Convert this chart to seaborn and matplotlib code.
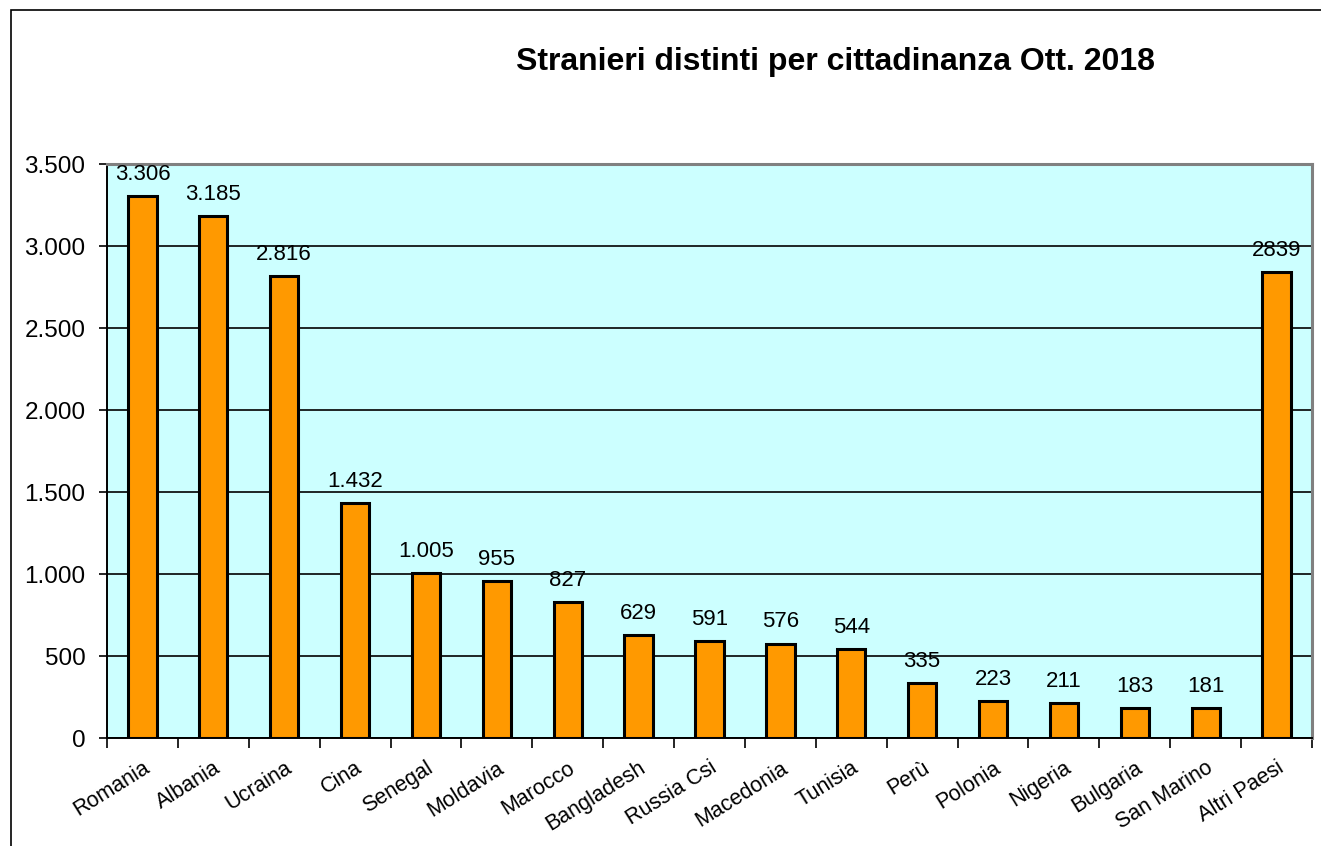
import matplotlib
matplotlib.use("Agg")
import matplotlib.pyplot as plt
import matplotlib.ticker as mticker
from matplotlib.patches import Rectangle
import seaborn as sns
import pandas as pd

# Data
countries = ['Romania', 'Albania', 'Ucraina', 'Cina', 'Senegal', 'Moldavia', 'Marocco',
             'Bangladesh', 'Russia Csi', 'Macedonia', 'Tunisia', 'Perù', 'Polonia',
             'Nigeria', 'Bulgaria', 'San Marino', 'Altri Paesi']
values = [3306, 3185, 2816, 1432, 1005, 955, 827, 629, 591, 576, 544, 335, 223,
          211, 183, 181, 2839]
value_labels = ['3.306', '3.185', '2.816', '1.432', '1.005', '955', '827', '629', '591',
                '576', '544', '335', '223', '211', '183', '181', '2839']
yticks = [0, 500, 1000, 1500, 2000, 2500, 3000, 3500]

df = pd.DataFrame({'paese': countries, 'stranieri': values})

sns.set_style("white")
plt.rcParams['font.family'] = ['Liberation Sans', 'DejaVu Sans']
plt.rcParams['text.color'] = 'black'
plt.rcParams['xtick.color'] = 'black'
plt.rcParams['ytick.color'] = 'black'

fig = plt.figure(figsize=(13.21, 8.46), dpi=100)
ax = fig.add_axes([107 / 1321, 108 / 846, (1312 - 107) / 1321, (738 - 164) / 846])
ax.set_facecolor('#CCFFFF')

sns.barplot(data=df, x='paese', y='stranieri', color='#FF9900', saturation=1,
            edgecolor='black', linewidth=2.2, width=0.40, ax=ax)

# value labels above the bars
for i, (v, lab) in enumerate(zip(values, value_labels)):
    ax.annotate(lab, (i, v), xytext=(0, 8), textcoords='offset points',
                ha='center', va='bottom', fontsize=16)

ax.set_ylim(0, 3500)
ax.set_xlim(-0.5, len(countries) - 0.5)
ax.set_yticks(yticks)
ax.yaxis.set_major_formatter(mticker.FuncFormatter(lambda v, p: f"{int(v):,}".replace(",", ".")))
ax.yaxis.grid(True, color='black', linewidth=1.2)
ax.set_axisbelow(True)

ax.set_xticks(range(len(countries)))
ax.set_xticklabels(countries, rotation=32, ha='right', rotation_mode='anchor', fontsize=15.5)
ax.set_xticks([i - 0.5 for i in range(len(countries) + 1)], minor=True)
ax.tick_params(axis='x', which='major', length=0, pad=14)
ax.tick_params(axis='x', which='minor', length=7, width=1.2, direction='out', bottom=True)
ax.tick_params(axis='y', length=6, width=1.2, direction='out', left=True,
               labelsize=17.5, pad=9.5)
ax.set_xlabel('')
ax.set_ylabel('')

for side in ['top', 'right']:
    ax.spines[side].set_color('#808080')
    ax.spines[side].set_linewidth(2.2)
for side in ['left', 'bottom']:
    ax.spines[side].set_color('black')
    ax.spines[side].set_linewidth(1.4)

fig.text(836 / 1321, 1 - 62 / 846, 'Stranieri distinti per cittadinanza Ott. 2018',
         ha='center', va='center', fontsize=23, fontweight='bold')

# outer chart border
fig.patches.append(Rectangle((11 / 1321, -0.1), 1.2, 1.1 - 10 / 846,
                             transform=fig.transFigure, fill=False,
                             edgecolor='black', linewidth=1.2))

fig.savefig('out.png', dpi=100)
